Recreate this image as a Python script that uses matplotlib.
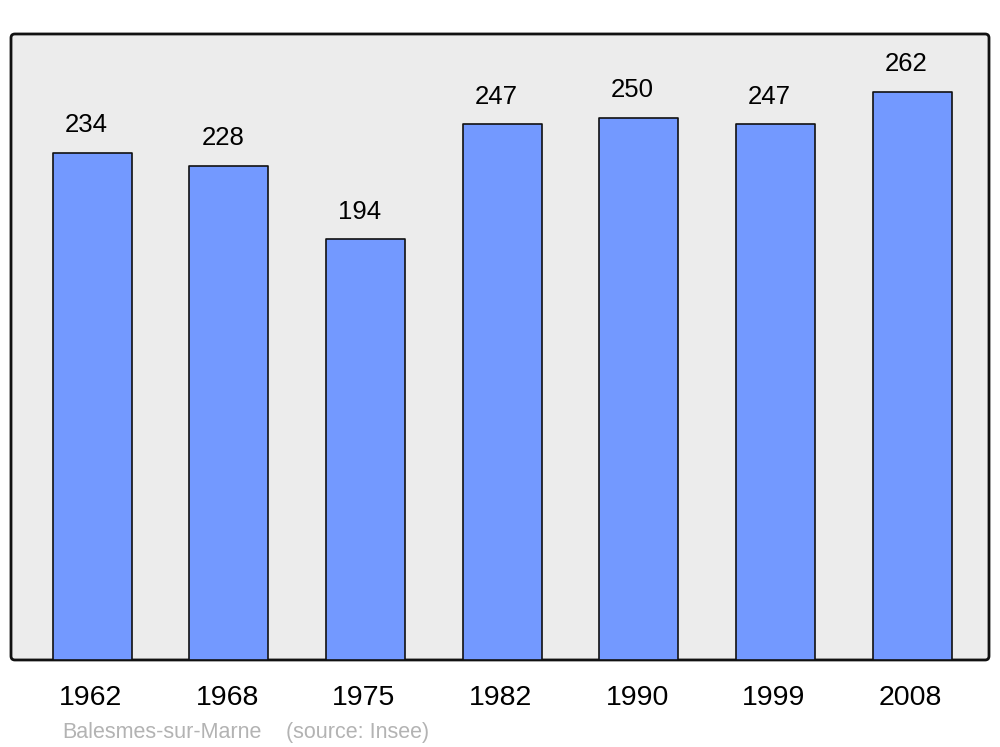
import matplotlib.pyplot as plt
from matplotlib.patches import FancyBboxPatch
from matplotlib.transforms import blended_transform_factory
import numpy as np

plt.rcParams['font.family'] = ['Liberation Sans', 'DejaVu Sans']

years = ['1962', '1968', '1975', '1982', '1990', '1999', '2008']
population = [234, 228, 194, 247, 250, 247, 262]
commune = 'Balesmes-sur-Marne'
source = '(source: Insee)'

fig = plt.figure(figsize=(10, 7.47), dpi=100, facecolor='white')
ax = fig.add_axes([0.011, 0.1165, 0.978, 0.838])
ax.set_facecolor('none')

# rounded grey frame
frame = FancyBboxPatch((0, 0), 1, 1, boxstyle="round,pad=0,rounding_size=0.004",
                       mutation_aspect=978 / 626, transform=ax.transAxes,
                       facecolor='#ececec', edgecolor='#111111', linewidth=2.0,
                       zorder=0, clip_on=False)
ax.add_patch(frame)

x = np.arange(len(years))
ax.bar(x, population, width=0.578, color='#7399ff', edgecolor='#111111',
       linewidth=1.2, joinstyle='round', zorder=2)

# value labels sit a bit left of the bar centre, like the original
for xi, v in zip(x, population):
    ax.annotate(str(v), (xi, v), xytext=(-4.3, 20), textcoords='offset points',
                ha='center', va='center', fontsize=18.5, color='black')

ax.set_xlim(-0.593, 6.563)
ax.set_ylim(0, 288.7)
ax.set_xticks([])
ax.set_yticks([])
for s in ax.spines.values():
    s.set_visible(False)

trans = blended_transform_factory(ax.transData, ax.transAxes)
for xi, yr in zip(x, years):
    ax.text(xi - 0.01, -0.0605, yr, transform=trans, ha='center', va='center',
            fontsize=20.5, color='black')

fig.text(0.062, 0.02, commune, ha='left', va='center', fontsize=15.5, color='#b3b3b3')
fig.text(0.286, 0.02, source, ha='left', va='center', fontsize=15.5, color='#b3b3b3')

fig.savefig('out.png', dpi=100)
